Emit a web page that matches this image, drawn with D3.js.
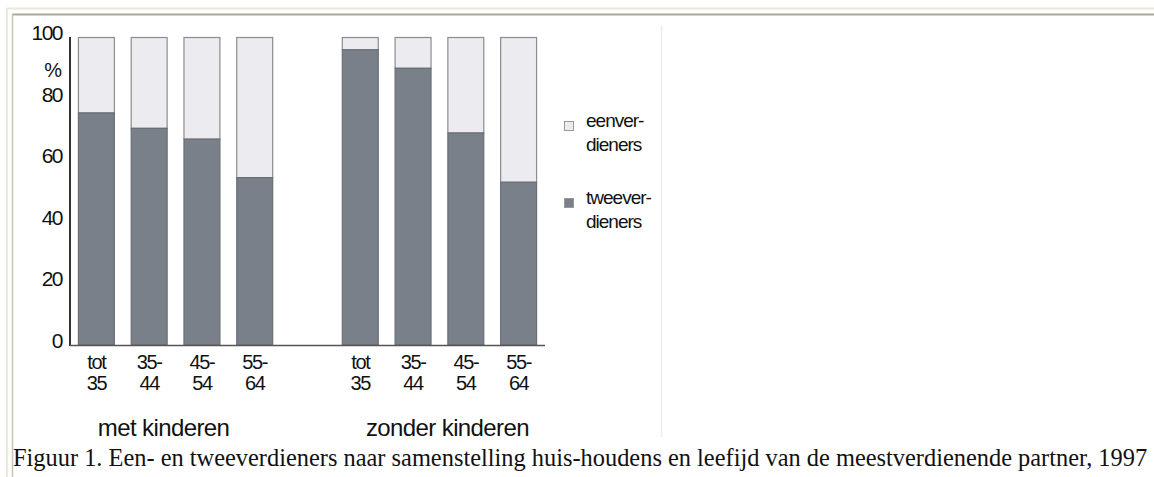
<!DOCTYPE html>
<html>
<head>
<meta charset="utf-8">
<script src="https://cdn.jsdelivr.net/npm/d3@7"></script>
<style>
  html, body { margin: 0; padding: 0; background: #ffffff; }
  svg { display: block; }
</style>
</head>
<body>
<svg id="chart" width="1154" height="477"></svg>
<script>
// ---- data ----
const groups = ["met kinderen", "zonder kinderen"];
const ageLabels = ["tot 35", "35- 44", "45- 54", "55- 64"];
const tweeverMet = [75.5, 70.5, 67, 54.5];
const tweeverZonder = [96, 90, 69, 53];
const eenverMet = [24.5, 29.5, 33, 45.5];
const eenverZonder = [4, 10, 31, 47];
const yTicks = [0, 20, 40, 60, 80, 100];
const seriesNames = ["eenver- dieners", "tweever- dieners"];
const caption = "Figuur 1. Een- en tweeverdieners naar samenstelling huis-houdens en leefijd van de meestverdienende partner, 1997";

// build rows
const rows = [];
ageLabels.forEach((a, i) => rows.push({ key: "m" + i, age: a, twee: tweeverMet[i], een: eenverMet[i] }));
rows.push({ key: "gap", age: null });
ageLabels.forEach((a, i) => rows.push({ key: "z" + i, age: a, twee: tweeverZonder[i], een: eenverZonder[i] }));
const bars = rows.filter(r => r.age !== null);

const colTwee = "#79808a";
const colEen = "#ececf0";
const sans = "'Liberation Sans', Arial, Helvetica, sans-serif";
const ink = "#111";

const svg = d3.select("#chart");

// ---- frame ----
svg.append("line").attr("x1", 7).attr("x2", 1154).attr("y1", 8.5).attr("y2", 8.5).attr("stroke", "#ece9d8").attr("stroke-width", 2);
svg.append("line").attr("x1", 7).attr("x2", 7).attr("y1", 8).attr("y2", 477).attr("stroke", "#ece9d8").attr("stroke-width", 2);
svg.append("line").attr("x1", 12).attr("x2", 1154).attr("y1", 14.5).attr("y2", 14.5).attr("stroke", "#aca899").attr("stroke-width", 2);
svg.append("line").attr("x1", 12.5).attr("x2", 12.5).attr("y1", 14).attr("y2", 477).attr("stroke", "#c9c6b8").attr("stroke-width", 1.5);
svg.append("line").attr("x1", 661.5).attr("x2", 661.5).attr("y1", 25).attr("y2", 437).attr("stroke", "#ececec").attr("stroke-width", 1.5);

// ---- scales ----
const x = d3.scaleBand().domain(rows.map(r => r.key)).range([70, 545]).paddingInner(0.3).paddingOuter(0.15);
const y = d3.scaleLinear().domain([0, 100]).range([345, 37]);

// ---- bars ----
const g = svg.append("g");
g.selectAll("rect.een").data(bars).join("rect")
  .attr("class", "een")
  .attr("x", d => x(d.key) + 0.5).attr("width", x.bandwidth() - 1)
  .attr("y", d => y(d.twee + d.een) + 0.5).attr("height", d => y(d.twee) - y(d.twee + d.een))
  .attr("fill", colEen).attr("stroke", "#8c8c8c").attr("stroke-width", 1.2);
g.selectAll("rect.twee").data(bars).join("rect")
  .attr("class", "twee")
  .attr("x", d => x(d.key) + 0.5).attr("width", x.bandwidth() - 1)
  .attr("y", d => y(d.twee) + 0.5).attr("height", d => y(0) - y(d.twee) - 0.5)
  .attr("fill", colTwee).attr("stroke", "#6a6f76").attr("stroke-width", 1.2);

// ---- axes ----
const yAxis = svg.append("g").attr("transform", "translate(70,0)")
  .call(d3.axisLeft(y).tickValues(yTicks).tickSize(0).tickPadding(8));
yAxis.select(".domain").remove();
yAxis.selectAll("text").attr("font-family", sans).attr("font-size", 21).attr("fill", ink)
  .attr("letter-spacing", -1.5).attr("dy", "0.12em");

svg.append("line").attr("x1", 70).attr("x2", 70).attr("y1", y(100)).attr("y2", y(0) + 1)
  .attr("stroke", "#333").attr("stroke-width", 2);
svg.append("line").attr("x1", 70).attr("x2", 545).attr("y1", y(0) + 0.5).attr("y2", y(0) + 0.5)
  .attr("stroke", "#555").attr("stroke-width", 1.6);

svg.append("text").attr("x", 62).attr("y", 77).attr("text-anchor", "end")
  .attr("font-family", sans).attr("font-size", 20).attr("fill", ink).text("%");

// x labels
const xl = svg.append("g").selectAll("text").data(bars).join("text")
  .attr("font-family", sans).attr("font-size", 20).attr("fill", ink).attr("letter-spacing", -1.4)
  .attr("text-anchor", "middle");
xl.each(function (d) {
  const parts = d.age.split(" ");
  const cx = x(d.key) + x.bandwidth() / 2;
  const t = d3.select(this);
  t.append("tspan").attr("x", cx).attr("y", 369).text(parts[0]);
  t.append("tspan").attr("x", cx).attr("y", 390).text(parts[1]);
});

// group labels
const grpCenters = [
  (x("m0") + x("m3") + x.bandwidth()) / 2 - 12,
  (x("z0") + x("z3") + x.bandwidth()) / 2 + 8
];
svg.append("g").selectAll("text").data(groups).join("text")
  .attr("x", (d, i) => grpCenters[i]).attr("y", 436)
  .attr("text-anchor", "middle").attr("font-family", sans).attr("font-size", 24)
  .attr("letter-spacing", -0.6).attr("fill", ink).text(d => d);

// ---- legend ----
const legY = [127, 204];
const legCols = [colEen, colTwee];
const leg = svg.append("g").selectAll("g").data(seriesNames).join("g")
  .attr("transform", (d, i) => `translate(0,${legY[i]})`);
leg.append("rect").attr("x", 564.5).attr("y", -5.5).attr("width", 9).attr("height", 9)
  .attr("fill", (d, i) => legCols[i]).attr("stroke", "#999").attr("stroke-width", 1);
leg.each(function (d) {
  const parts = d.split(" ");
  const t = d3.select(this).append("text").attr("font-family", sans).attr("font-size", 19)
    .attr("letter-spacing", -1).attr("fill", ink);
  t.append("tspan").attr("x", 586).attr("y", 0).text(parts[0]);
  t.append("tspan").attr("x", 586).attr("y", 24).text(parts[1]);
});

// ---- caption ----
svg.append("text").attr("x", 13).attr("y", 466)
  .attr("font-family", "'Liberation Serif', 'Times New Roman', serif").attr("font-size", 24.4)
  .attr("fill", "#111").text(caption);
</script>
</body>
</html>
